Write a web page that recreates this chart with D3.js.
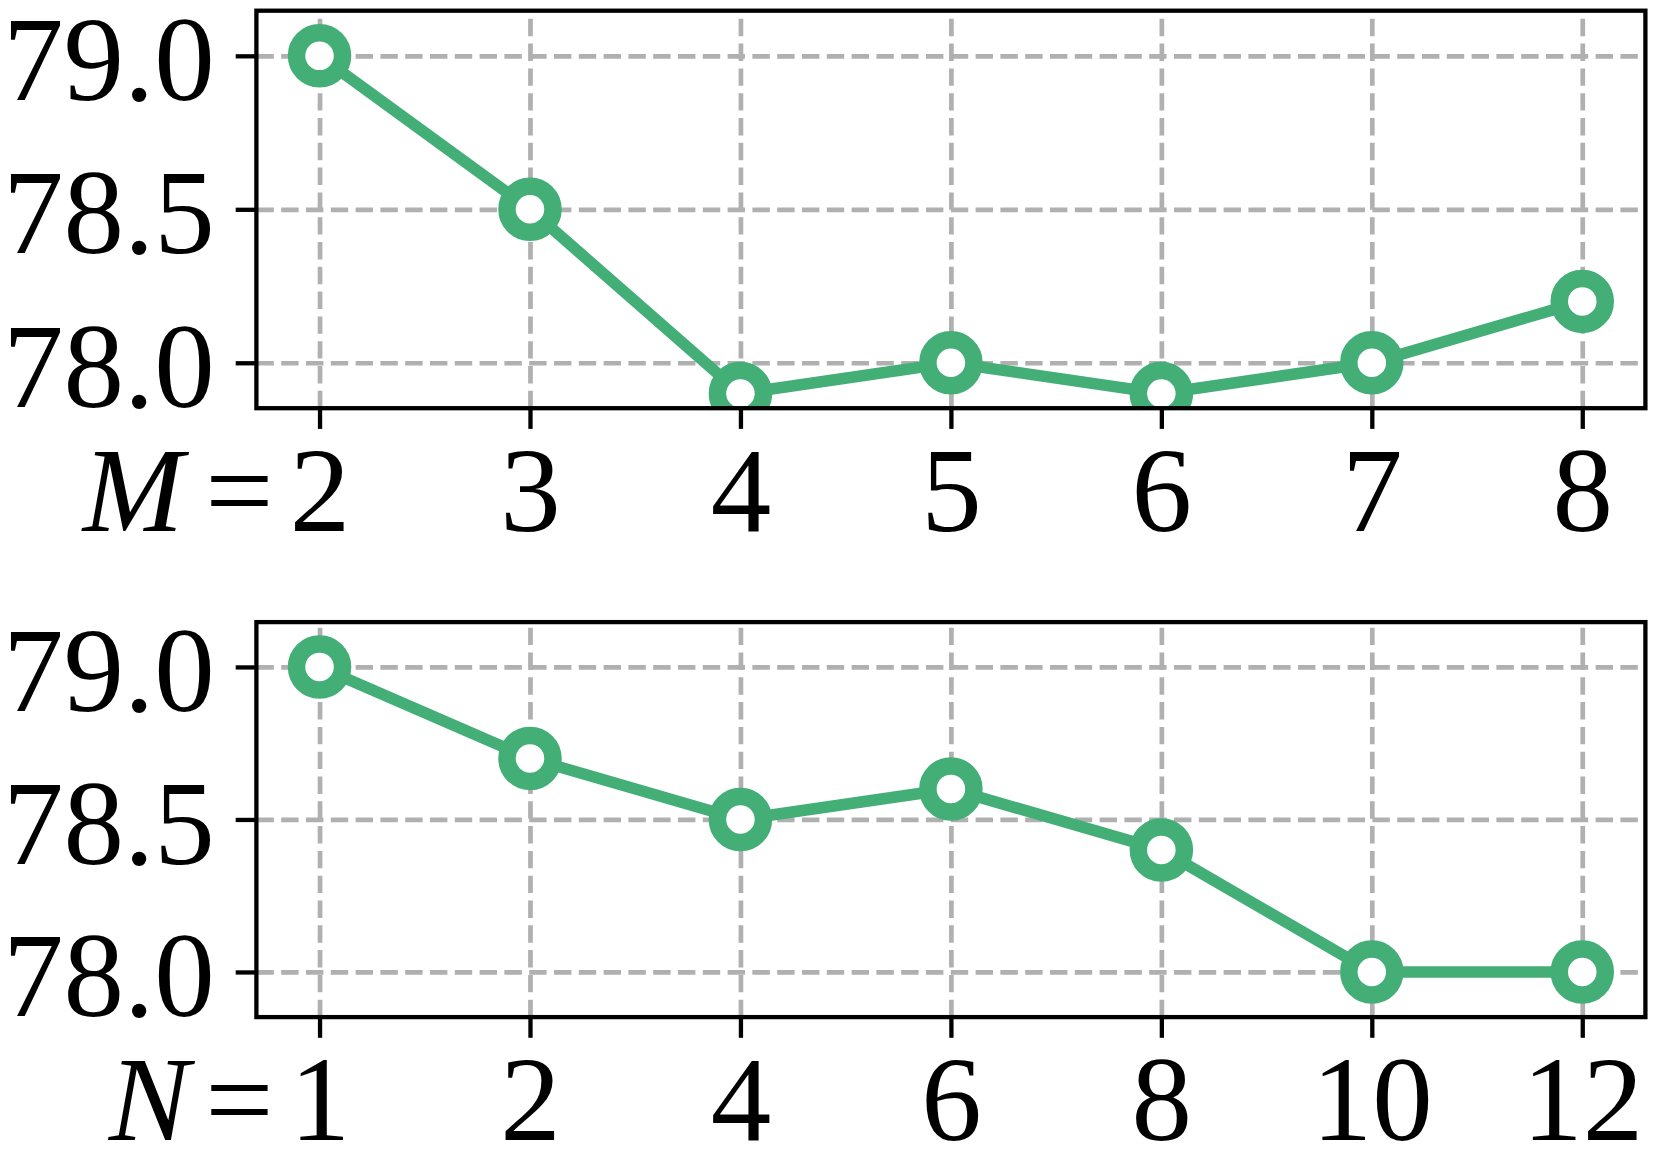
<!DOCTYPE html>
<html lang="en">
<head>
<meta charset="UTF-8">
<title>M / N sweep</title>
<style>
    body { margin: 0; background: #fff; }
</style>
</head>
<body>
<script src="https://d3js.org/d3.v7.min.js"></script>
<script>
    // Data
    const mValues = ["2", "3", "4", "5", "6", "7", "8"];
    const mScores = [79.0, 78.5, 77.9, 78.0, 77.9, 78.0, 78.2];
    const nValues = ["1", "2", "4", "6", "8", "10", "12"];
    const nScores = [79.0, 78.7, 78.5, 78.6, 78.4, 78.0, 78.0];
    const yTicks = [78.0, 78.5, 79.0];
    const yRange = [77.852, 79.147];

    // Layout
    const W = 1661, H = 1163,
        left = 256.4, width = 1389,
        green = "#44ae77",
        gridColor = "#b0b0b0",
        serif = "'Liberation Serif', 'Times New Roman', Times, serif",
        fontSize = 121;

    const panels = [
        {name: "M", cats: mValues, vals: mScores, top: 10.7, height: 397.5, nameShift: 136},
        {name: "N", cats: nValues, vals: nScores, top: 622.1, height: 395, nameShift: 130}
    ];

    const svg = d3.select("body").append("svg")
        .attr("width", W)
        .attr("height", H);

    panels.forEach(function(p, pi) {
        const x = d3.scalePoint()
            .domain(p.cats)
            .range([0, width])
            .padding(0.3);
        const y = d3.scaleLinear()
            .domain(yRange)
            .range([p.height, 0]);

        const g = svg.append("g")
            .attr("transform", "translate(" + left + "," + p.top + ")");

        // clip for line and markers
        g.append("clipPath").attr("id", "clip" + pi)
            .append("rect")
            .attr("width", width).attr("height", p.height);

        // dashed grid
        const gy = g.append("g")
            .call(d3.axisLeft(y).tickValues(yTicks).tickSize(-width).tickFormat(""));
        const gx = g.append("g")
            .attr("transform", "translate(0," + p.height + ")")
            .call(d3.axisBottom(x).tickSize(-p.height).tickFormat(""));
        [gy, gx].forEach(function(a) {
            a.select(".domain").remove();
            a.selectAll("line")
                .attr("stroke", gridColor)
                .attr("stroke-width", 4.7)
                .attr("stroke-dasharray", "17.4,7.4");
        });

        const pts = p.cats.map(function(c, i) { return [c, p.vals[i]]; });
        const plot = g.append("g").attr("clip-path", "url(#clip" + pi + ")");

        plot.append("path")
            .datum(pts)
            .attr("fill", "none")
            .attr("stroke", green)
            .attr("stroke-width", 11.5)
            .attr("d", d3.line()
                .x(function(d) { return x(d[0]); })
                .y(function(d) { return y(d[1]); }));

        plot.selectAll("circle")
            .data(pts)
            .enter().append("circle")
            .attr("cx", function(d) { return x(d[0]); })
            .attr("cy", function(d) { return y(d[1]); })
            .attr("r", 23)
            .attr("fill", "#fff")
            .attr("stroke", green)
            .attr("stroke-width", 17.5);

        // frame
        g.append("rect")
            .attr("width", width).attr("height", p.height)
            .attr("fill", "none")
            .attr("stroke", "#000")
            .attr("stroke-width", 4.3);

        // y axis
        const ya = g.append("g")
            .call(d3.axisLeft(y).tickValues(yTicks).tickSize(20.7).tickPadding(21)
                .tickFormat(d3.format(".1f")));
        ya.attr("font-family", serif).attr("font-size", fontSize);
        ya.select(".domain").remove();
        ya.selectAll("line").attr("stroke", "#000").attr("stroke-width", 4.3);
        ya.selectAll("text")
            .style("font-family", serif)
            .style("font-size", fontSize + "px")
            .attr("dy", "0.36em");

        // x axis
        const xa = g.append("g")
            .attr("transform", "translate(0," + p.height + ")")
            .call(d3.axisBottom(x).tickSize(20.7).tickPadding(0));
        xa.attr("font-family", serif).attr("font-size", fontSize);
        xa.select(".domain").remove();
        xa.selectAll("line").attr("stroke", "#000").attr("stroke-width", 4.3);
        xa.selectAll("text")
            .style("font-family", serif)
            .style("font-size", fontSize + "px")
            .attr("y", 123)
            .attr("dy", 0);

        // "M=" / "N=" prefix before the first tick label
        const x0 = x(p.cats[0]);
        const lab = g.append("g")
            .attr("transform", "translate(0," + (p.height + 123) + ")")
            .style("font-family", serif)
            .style("font-size", fontSize + "px");
        lab.append("text")
            .attr("x", x0 - 46)
            .attr("text-anchor", "end")
            .text("=");
        lab.append("text")
            .attr("x", x0 - p.nameShift)
            .attr("text-anchor", "end")
            .style("font-style", "italic")
            .text(p.name);
    });
</script>
</body>
</html>
